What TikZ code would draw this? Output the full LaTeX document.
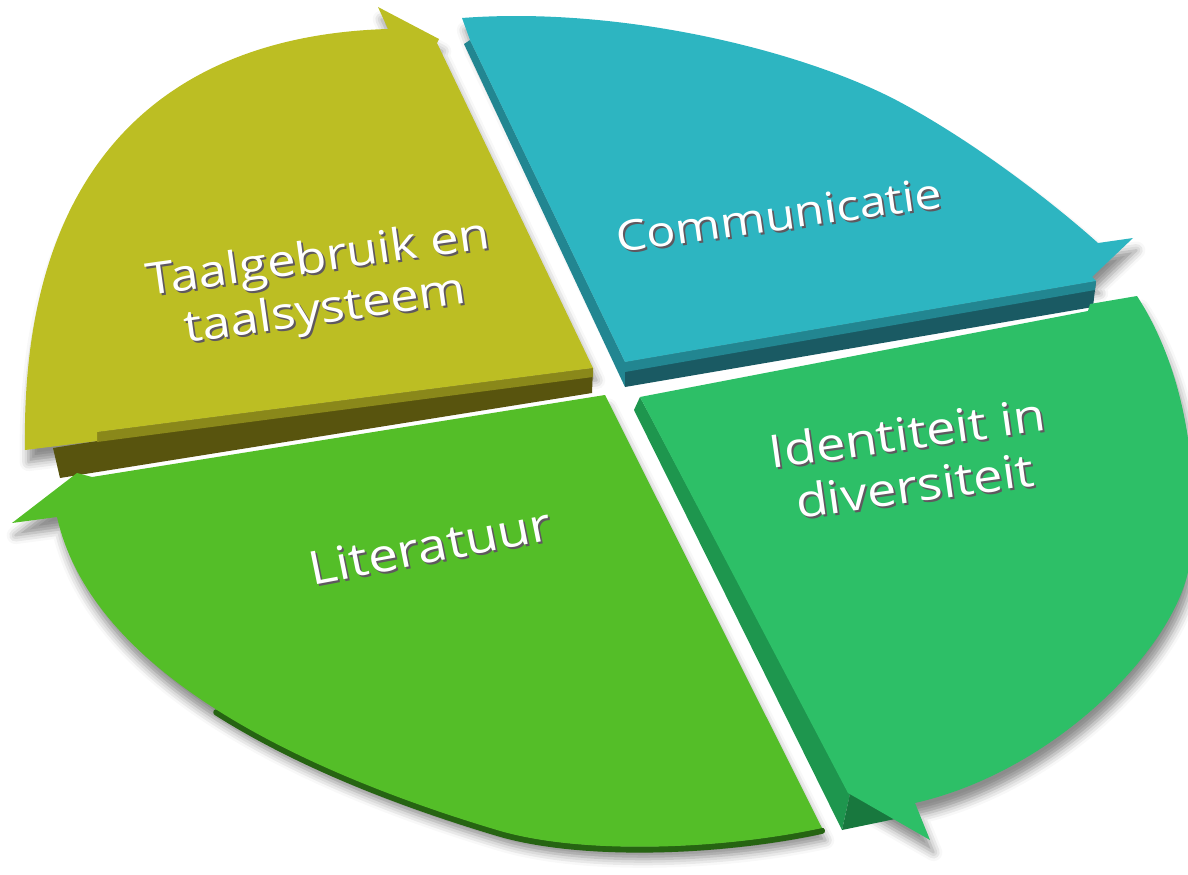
\documentclass[tikz,border=0pt]{standalone}
\usepackage{fontspec}
\setmainfont{Open Sans}
\usetikzlibrary{shadows.blur}

\definecolor{taalgeel}{RGB}{188,190,35}
\definecolor{taalbevel}{RGB}{138,136,26}
\definecolor{taalrand}{RGB}{88,84,14}
\definecolor{commblauw}{RGB}{45,181,193}
\definecolor{commzij}{RGB}{34,134,145}
\definecolor{commrand}{RGB}{26,90,99}
\definecolor{identgroen}{RGB}{45,191,103}
\definecolor{identzij}{RGB}{30,150,78}
\definecolor{litgroen}{RGB}{84,190,40}
\definecolor{litrand}{RGB}{38,100,18}
\definecolor{tekstgrijs}{RGB}{95,88,95}

\tikzset{
  vlakschaduw/.style={blur shadow={shadow xshift=2pt, shadow yshift=-7pt,
      shadow blur radius=5pt, shadow opacity=45}},
  tekst/.style={font=\fontsize{24}{28}\selectfont, text=white, align=center,
      rotate=8, xscale=1.15, inner sep=0pt},
  tekstschaduw/.style={tekst, text=tekstgrijs}
}

\begin{document}
\begin{tikzpicture}[x=0.02cm, y=-0.02cm]
  \useasboundingbox (0,0) rectangle (1188,875);
  \newcommand\TaalVlak{(593,368) -- (437,43) -- (439,39) -- (378,7) -- (388,29)
    .. controls (180,35) and (20,150) .. (25,450)
    -- (97,441) -- (97,432) -- cycle}
  \newcommand\CommVlak{(625,362) -- (470,40) -- (462,18)
    .. controls (620,6) and (800,50) .. (896,100)
    .. controls (970,139) and (1050,200) .. (1098,243)
    -- (1133,238) -- (1092,277) -- (1096,281) -- cycle}
  \newcommand\IdentVlak{(640,397) -- (1088,311) -- (1090,304) -- (1137,296)
    .. controls (1185,370) and (1200,470) .. (1190,560)
    .. controls (1182,640) and (1060,770) .. (915,803)
    -- (930,840) -- (848,793) -- cycle}
  \newcommand\LitVlak{(605,395) -- (822,828)
    .. controls (720,850) and (580,855) .. (497,830)
    .. controls (300,771) and (92,672) .. (57,517)
    -- (12,523) -- (77,473) -- (92,477) -- cycle}

  % schaduwen
  \path[vlakschaduw] \TaalVlak;
  \path[vlakschaduw] \CommVlak;
  \path[vlakschaduw] \IdentVlak;
  \path[vlakschaduw] \LitVlak;

  % Taalgebruik en taalsysteem
  \fill[taalrand] (53,448) -- (97,441) -- (97,432) -- (593,368) -- (592,393)
    -- (60,478) -- cycle;
  \fill[taalbevel] (97,432) -- (593,368) -- (593,377) -- (97,442) -- cycle;
  \fill[taalgeel] \TaalVlak;

  % Communicatie
  \fill[commzij] (470,40) -- (625,362) -- (625,387) -- (464,44) -- cycle;
  \fill[commrand] (625,362) -- (1096,281) -- (1093,307) -- (625,387) -- cycle;
  \fill[commzij] (625,362) -- (1096,281) -- (1095,290) -- (625,372) -- cycle;
  \fill[commblauw] \CommVlak;

  % Literatuur
  \draw[litrand, line width=3.5pt, line cap=round, yshift=-1.6pt] (822,828)
    .. controls (720,850) and (580,855) .. (497,830)
    .. controls (398.5,800.5) and (297.25,761) .. (216.25,709.5);
  \fill[litgroen] \LitVlak;

  % Identiteit in diversiteit
  \fill[identzij] (640,397) -- (850,794) -- (842,830) -- (634,410) -- cycle;
  \fill[identzij!80!black] (850,794) -- (900,818) -- (842,830) -- cycle;
  \fill[identgroen] \IdentVlak;

  % teksten
  \node[tekstschaduw, scale=1.05] (taal-s) at (324,288) {Taalgebruik en\\taalsysteem};
  \node[tekst, scale=1.05] (taal) at (322,286) {Taalgebruik en\\taalsysteem};
  \node[tekstschaduw] (comm-s) at (781,217) {Communicatie};
  \node[tekst] (comm) at (779,215) {Communicatie};
  \node[tekstschaduw, scale=1.08] (ident-s) at (913,461) {Identiteit in\\diversiteit};
  \node[tekst, scale=1.08] (ident) at (911,459) {Identiteit in\\diversiteit};
  \node[tekstschaduw, rotate=3, scale=1.1] (lit-s) at (432,548) {Literatuur};
  \node[tekst, rotate=3, scale=1.1] (lit) at (430,546) {Literatuur};
\end{tikzpicture}
\end{document}
